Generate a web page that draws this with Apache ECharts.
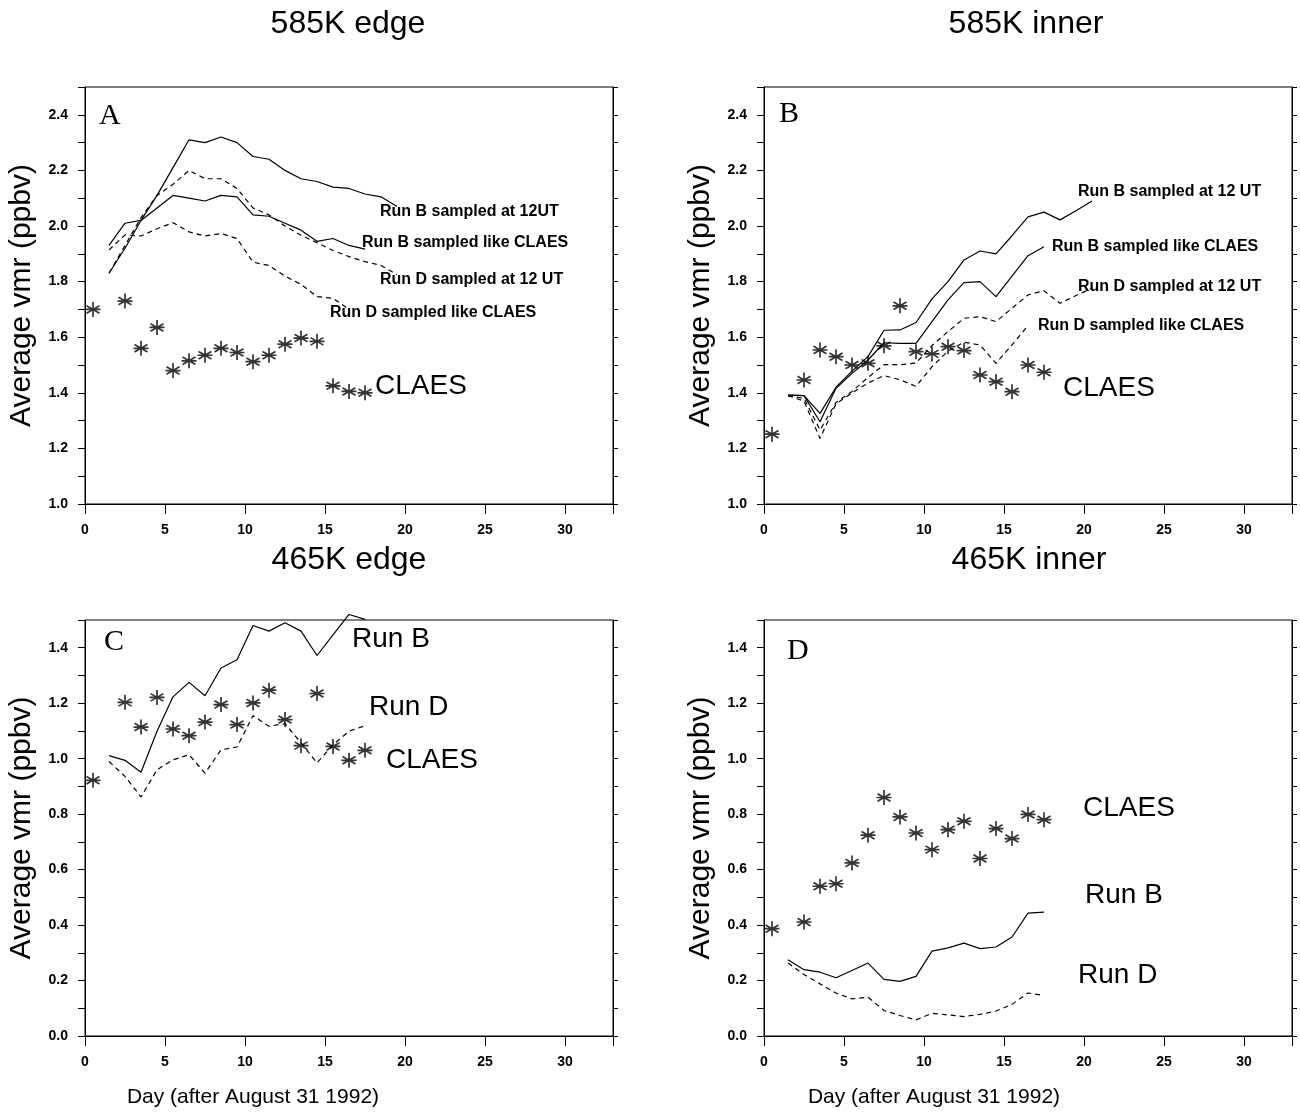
<!DOCTYPE html>
<html>
<head>
<meta charset="utf-8">
<script src="https://cdn.jsdelivr.net/npm/echarts@6/dist/echarts.min.js"></script>
<style>
  html, body { margin: 0; padding: 0; background: #fff; }
  #chart { width: 1300px; height: 1115px; }
</style>
</head>
<body>
<div id="chart"></div>
<script>
// days of the model runs and of the CLAES measurements
const days17 = [1.5, 2.5, 3.5, 4.5, 5.5, 6.5, 7.5, 8.5, 9.5, 10.5, 11.5, 12.5, 13.5, 14.5, 15.5, 16.5, 17.5];
const days16 = [1.5, 2.5, 3.5, 4.5, 5.5, 6.5, 7.5, 8.5, 9.5, 10.5, 11.5, 12.5, 13.5, 14.5, 15.5, 16.5];
const days19 = [1.5, 2.5, 3.5, 4.5, 5.5, 6.5, 7.5, 8.5, 9.5, 10.5, 11.5, 12.5, 13.5, 14.5, 15.5, 16.5, 17.5, 18.5, 19.5];
const days20 = [1.5, 2.5, 3.5, 4.5, 5.5, 6.5, 7.5, 8.5, 9.5, 10.5, 11.5, 12.5, 13.5, 14.5, 15.5, 16.5, 17.5, 18.5, 19.5, 20.5];
const claesDays = [0.5, 2.5, 3.5, 4.5, 5.5, 6.5, 7.5, 8.5, 9.5, 10.5, 11.5, 12.5, 13.5, 14.5, 15.5, 16.5, 17.5];

// A: 585K edge
const aRunB12 = [1.83, 1.92, 2.02, 2.11, 2.21, 2.31, 2.30, 2.32, 2.30, 2.25, 2.24, 2.20, 2.17, 2.16, 2.14, 2.135, 2.115, 2.105, 2.07];
const aRunBcl = [1.93, 2.01, 2.02, 2.065, 2.11, 2.10, 2.09, 2.11, 2.105, 2.04, 2.035, 2.01, 1.985, 1.945, 1.955, 1.93, 1.917];
const aRunD12 = [1.83, 1.93, 2.03, 2.11, 2.15, 2.20, 2.17, 2.17, 2.135, 2.065, 2.04, 2.0, 1.967, 1.94, 1.912, 1.89, 1.872, 1.858, 1.825];
const aRunDcl = [1.914, 1.968, 1.964, 1.99, 2.012, 1.979, 1.964, 1.973, 1.955, 1.87, 1.858, 1.82, 1.79, 1.746, 1.74, 1.70];
const aClaes = [1.70, 1.73, 1.56, 1.635, 1.48, 1.515, 1.535, 1.56, 1.545, 1.512, 1.535, 1.575, 1.597, 1.585, 1.425, 1.405, 1.40];

// B: 585K inner
const bRunB12 = [1.392, 1.39, 1.326, 1.42, 1.478, 1.53, 1.625, 1.626, 1.653, 1.738, 1.80, 1.878, 1.91, 1.90, 1.965, 2.033, 2.05, 2.022, 2.055, 2.09];
const bRunBcl = [1.392, 1.39, 1.296, 1.416, 1.47, 1.518, 1.58, 1.578, 1.578, 1.656, 1.734, 1.796, 1.80, 1.746, 1.82, 1.893, 1.925];
const bRunD12 = [1.39, 1.38, 1.266, 1.365, 1.405, 1.455, 1.501, 1.501, 1.507, 1.57, 1.62, 1.668, 1.674, 1.656, 1.704, 1.752, 1.767, 1.722, 1.75, 1.776];
const bRunDcl = [1.39, 1.37, 1.236, 1.36, 1.40, 1.435, 1.462, 1.447, 1.423, 1.494, 1.55, 1.582, 1.572, 1.506, 1.572, 1.642];
const bClaes = [1.251, 1.446, 1.554, 1.53, 1.50, 1.506, 1.569, 1.713, 1.548, 1.54, 1.566, 1.552, 1.464, 1.44, 1.404, 1.50, 1.474];

// C: 465K edge
const cRunB = [1.011, 0.994, 0.951, 1.099, 1.223, 1.275, 1.227, 1.327, 1.357, 1.48, 1.46, 1.49, 1.46, 1.372, 1.446, 1.52, 1.502];
const cRunD = [0.99, 0.936, 0.862, 0.96, 0.996, 1.014, 0.948, 1.032, 1.042, 1.155, 1.117, 1.126, 1.057, 0.985, 1.05, 1.099, 1.119];
const cClaes = [0.922, 1.203, 1.114, 1.221, 1.107, 1.083, 1.132, 1.195, 1.123, 1.201, 1.247, 1.141, 1.047, 1.235, 1.044, 0.994, 1.03];

// D: 465K inner
const dRunB = [0.275, 0.239, 0.23, 0.21, 0.236, 0.263, 0.204, 0.197, 0.215, 0.306, 0.318, 0.335, 0.315, 0.321, 0.357, 0.443, 0.447];
const dRunD = [0.263, 0.222, 0.188, 0.155, 0.134, 0.14, 0.092, 0.074, 0.058, 0.082, 0.076, 0.07, 0.078, 0.09, 0.114, 0.155, 0.146];
const dClaes = [0.387, 0.411, 0.54, 0.549, 0.624, 0.724, 0.86, 0.79, 0.732, 0.672, 0.744, 0.774, 0.64, 0.748, 0.712, 0.799, 0.78];

const panelTitles = ['585K edge', '585K inner', '465K edge', '465K inner'];
const panelLetters = ['A', 'B', 'C', 'D'];

const FONT = '"Liberation Sans", Arial, Helvetica, sans-serif';
const SERIF = '"Liberation Serif", "Times New Roman", serif';
const STAR = 'path://M0 -7L0 7M-6.06 -3.5L6.06 3.5M-6.06 3.5L6.06 -3.5M-7 0L7 0';

const zip = (xs, ys) => xs.map((x, i) => [x, ys[i]]);

const grids = [
  { left: 85, top: 87, width: 528, height: 417 },
  { left: 764, top: 87, width: 528, height: 417 },
  { left: 85, top: 620, width: 528, height: 416 },
  { left: 764, top: 620, width: 528, height: 416 },
];

const xAxes = grids.map((g, i) => ({
  type: 'value', gridIndex: i, min: 0, max: 33, interval: 5,
  axisLine: { show: true, lineStyle: { color: '#000', width: 1 } },
  axisTick: { show: true, inside: false, length: 10, lineStyle: { color: '#000' } },
  axisLabel: {
    margin: 19, fontFamily: FONT, fontWeight: 'bold', fontSize: 14, color: '#000',
    formatter: v => (v % 5 === 0 ? String(v) : '')
  },
  splitLine: { show: false }
}));

function yPair(i, min, max) {
  const fmt = v => {
    const t = Math.round(v * 10);
    if (t % 2 !== 0 || v > max - 1e-6) return '';
    return (t / 10).toFixed(1);
  };
  return [
    {
      type: 'value', gridIndex: i, min: min, max: max, interval: 0.1, position: 'left',
      name: 'Average vmr (ppbv)', nameLocation: 'middle', nameGap: 48, nameRotate: 90,
      nameTextStyle: { fontFamily: FONT, fontSize: 30, color: '#000' },
      axisLine: { show: true, lineStyle: { color: '#000' } },
      axisTick: { show: true, length: 7, lineStyle: { color: '#000' } },
      axisLabel: { margin: 17, fontFamily: FONT, fontWeight: 'bold', fontSize: 14, color: '#000', formatter: fmt },
      splitLine: { show: false }
    },
    {
      type: 'value', gridIndex: i, min: min, max: max, interval: 0.1, position: 'right',
      axisLine: { show: true, lineStyle: { color: '#000' } },
      axisTick: { show: true, length: 5, lineStyle: { color: '#000' } },
      axisLabel: { show: false },
      splitLine: { show: false }
    }
  ];
}

const yAxes = [].concat(yPair(0, 1.0, 2.5), yPair(1, 1.0, 2.5), yPair(2, 0, 1.5), yPair(3, 0, 1.5));

function line(i, xs, ys, dashed) {
  return {
    type: 'line', xAxisIndex: i, yAxisIndex: i * 2, data: zip(xs, ys),
    symbol: 'none', clip: false, silent: true,
    lineStyle: { color: '#000', width: 1.2, type: dashed ? [5, 4] : 'solid' }
  };
}
function stars(i, ys) {
  return {
    type: 'scatter', xAxisIndex: i, yAxisIndex: i * 2, data: zip(claesDays, ys),
    symbol: STAR, symbolSize: 15, symbolKeepAspect: true, silent: true,
    itemStyle: { color: '#000', borderColor: '#000', borderWidth: 1.7 }
  };
}

const series = [
  line(0, days19, aRunB12, false), line(0, days17, aRunBcl, false),
  line(0, days19, aRunD12, true), line(0, days16, aRunDcl, true), stars(0, aClaes),
  line(1, days20, bRunB12, false), line(1, days17, bRunBcl, false),
  line(1, days20, bRunD12, true), line(1, days16, bRunDcl, true), stars(1, bClaes),
  line(2, days17, cRunB, false), line(2, days17, cRunD, true), stars(2, cClaes),
  line(3, days17, dRunB, false), line(3, days17, dRunD, true), stars(3, dClaes)
];

function txt(text, x, y, size, opts) {
  opts = opts || {};
  const font = (opts.weight || 'normal') + ' ' + size + 'px ' + (opts.family || FONT);
  return {
    type: 'text', silent: true,
    style: {
      text: text, x: x, y: y, fill: '#000', font: font,
      textAlign: opts.align || 'left', align: opts.align || 'left',
      textVerticalAlign: 'middle', verticalAlign: 'middle'
    }
  };
}

const graphics = [
  txt(panelTitles[0], 348, 24, 32, { align: 'center' }),
  txt(panelTitles[1], 1026, 24, 32, { align: 'center' }),
  txt(panelTitles[2], 349, 560, 32, { align: 'center' }),
  txt(panelTitles[3], 1029, 560, 32, { align: 'center' }),
  txt(panelLetters[0], 99, 116, 30, { family: SERIF }),
  txt(panelLetters[1], 779, 114, 30, { family: SERIF }),
  txt(panelLetters[2], 104, 642, 30, { family: SERIF }),
  txt(panelLetters[3], 787, 651, 30, { family: SERIF }),
  // x axis titles sit left of the axis centre, as in the original figure
  txt('Day (after August 31 1992)', 253, 1097, 21, { align: 'center' }),
  txt('Day (after August 31 1992)', 934, 1097, 21, { align: 'center' }),
  // panel A labels
  txt('Run B sampled at 12UT', 380, 212, 16, { weight: 'bold' }),
  txt('Run B sampled like CLAES', 362, 243, 16, { weight: 'bold' }),
  txt('Run D sampled at 12 UT', 380, 280, 16, { weight: 'bold' }),
  txt('Run D sampled like CLAES', 330, 313, 16, { weight: 'bold' }),
  txt('CLAES', 375, 386, 28),
  // panel B labels
  txt('Run B sampled at 12 UT', 1078, 192, 16, { weight: 'bold' }),
  txt('Run B sampled like CLAES', 1052, 247, 16, { weight: 'bold' }),
  txt('Run D sampled at 12 UT', 1078, 287, 16, { weight: 'bold' }),
  txt('Run D sampled like CLAES', 1038, 326, 16, { weight: 'bold' }),
  txt('CLAES', 1063, 388, 28),
  // panel C labels
  txt('Run B', 352, 639, 28),
  txt('Run D', 369, 707, 28),
  txt('CLAES', 386, 760, 28),
  // panel D labels
  txt('CLAES', 1083, 808, 28),
  txt('Run B', 1085, 895, 28),
  txt('Run D', 1078, 975, 28)
];

const chart = echarts.init(document.getElementById('chart'), null, { renderer: 'canvas' });
chart.setOption({
  animation: false,
  backgroundColor: '#fff',
  grid: grids.map(g => Object.assign({ show: true, borderColor: '#000', borderWidth: 1, containLabel: false }, g)),
  xAxis: xAxes,
  yAxis: yAxes,
  series: series,
  graphic: graphics
});
</script>
</body>
</html>
